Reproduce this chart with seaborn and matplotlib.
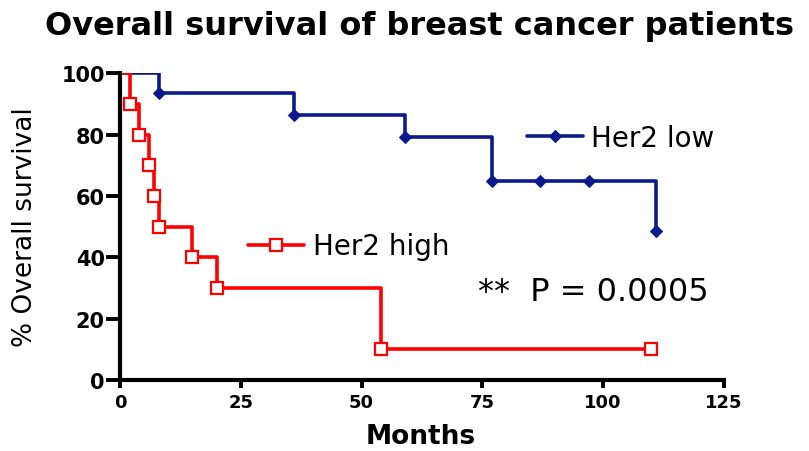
import matplotlib

matplotlib.use("Agg")

import matplotlib.pyplot as plt  # noqa: E402
import seaborn as sns  # noqa: E402

# Kaplan-Meier steps (months, % surviving)
LOW_MONTHS = [0, 8, 36, 59, 77, 87, 97, 111]
LOW_SURV = [100, 93.4, 86.5, 79.3, 65, 65, 65, 48.6]
HIGH_MONTHS = [0, 2, 4, 6, 7, 8, 15, 20, 54, 110]
HIGH_SURV = [100, 90, 80, 70, 60, 50, 40, 30, 10, 10]

X_TICKS = [0, 25, 50, 75, 100, 125]
Y_TICKS = [0, 20, 40, 60, 80, 100]

BLUE = "#0b1a8a"
RED = "#ff0000"

sns.set_style("ticks")
plt.rcParams["font.family"] = ["DejaVu Sans"]
plt.rcParams["text.color"] = "black"
plt.rcParams["axes.labelcolor"] = "black"
plt.rcParams["xtick.color"] = "black"
plt.rcParams["ytick.color"] = "black"

fig = plt.figure(figsize=(8.09, 4.52), dpi=100)
ax = fig.add_axes([0.1483, 0.157, 0.7466, 0.679])

sns.lineplot(
    x=LOW_MONTHS, y=LOW_SURV, ax=ax, estimator=None, sort=False,
    drawstyle="steps-post", color=BLUE, lw=2.6,
    marker="D", markersize=6.5, markevery=slice(1, None),
    markerfacecolor=BLUE, markeredgecolor=BLUE,
    label="Her2 low", legend=False,
)
sns.lineplot(
    x=HIGH_MONTHS, y=HIGH_SURV, ax=ax, estimator=None, sort=False,
    drawstyle="steps-post", color=RED, lw=2.6,
    marker="s", markersize=9, markevery=slice(1, None),
    markerfacecolor="white", markeredgecolor=RED, markeredgewidth=1.6,
    label="Her2 high", legend=False,
)
low_line, high_line = ax.get_lines()[:2]

ax.set_xlim(0, 125)
ax.set_ylim(0, 100)
ax.set_xticks(X_TICKS)
ax.set_yticks(Y_TICKS)
for lab in ax.get_xticklabels() + ax.get_yticklabels():
    lab.set_fontweight("bold")
ax.tick_params(axis="x", labelsize=13, length=6, width=2.8, pad=3)
ax.tick_params(axis="y", labelsize=15, length=10, width=2.8, pad=1)
for side in ("left", "bottom"):
    ax.spines[side].set_linewidth(3)
    ax.spines[side].set_color("black")
sns.despine(ax=ax)

ax.set_xlabel("Months", fontsize=19, fontweight="bold")
ax.xaxis.set_label_coords(0.498, -0.14)
ax.set_ylabel("% Overall survival", fontsize=19)
ax.yaxis.set_label_coords(-0.136, 0.5)
fig.text(0.519, 0.942, "Overall survival of breast cancer patients",
         fontsize=23, fontweight="bold", ha="center", va="center")

leg_low = ax.legend(handles=[low_line], labels=["Her2 low"], loc="center left",
                    bbox_to_anchor=(0.674, 0.79), frameon=False, fontsize=20,
                    borderpad=0, borderaxespad=0, handlelength=2.0,
                    handletextpad=0.3)
ax.add_artist(leg_low)
ax.legend(handles=[high_line], labels=["Her2 high"], loc="center left",
          bbox_to_anchor=(0.212, 0.436), frameon=False, fontsize=20,
          borderpad=0, borderaxespad=0, handlelength=2.0, handletextpad=0.35)

ax.text(0.593, 0.29, "**  P = 0.0005", transform=ax.transAxes,
        fontsize=23, va="center", ha="left")

fig.savefig("out.png", dpi=100)
